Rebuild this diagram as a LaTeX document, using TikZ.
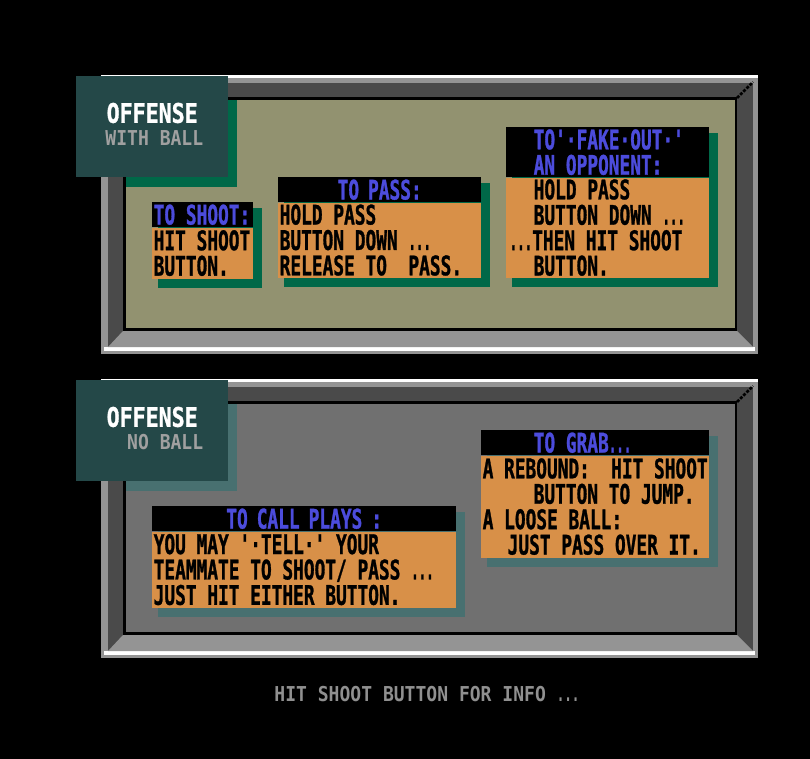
\documentclass[tikz,border=0pt]{standalone}
\usepackage{fontspec}
\usepackage{graphicx}
\usetikzlibrary{positioning,calc}
\newfontfamily\pixfont{DejaVu Sans Mono}[FakeStretch=0.66,FakeBold=1,Ligatures=TeXOff]
\newfontfamily\tabfont{DejaVu Sans Mono}[FakeStretch=0.8,FakeBold=1,Ligatures=TeXOff]
\newfontfamily\smallpix{DejaVu Sans Mono}[FakeStretch=0.88,Ligatures=TeXOff]
\newcommand\tdots{\scalebox{0.7}[1]{...}}
\definecolor{olivebg}{RGB}{146,146,112}
\definecolor{panelgray}{RGB}{112,112,112}
\definecolor{framedark}{RGB}{74,74,74}
\definecolor{framelight}{RGB}{148,148,148}
\definecolor{tabteal}{RGB}{36,72,72}
\definecolor{greenshadow}{RGB}{0,104,72}
\definecolor{tealshadow}{RGB}{72,112,112}
\definecolor{boxorange}{RGB}{216,144,72}
\definecolor{headblue}{RGB}{76,76,220}
\definecolor{subgray}{RGB}{160,160,160}
\definecolor{infogray}{RGB}{144,144,144}
\pgfdeclarelayer{back}
\pgfdeclarelayer{mid}
\pgfsetlayers{back,mid,main}
\tikzstyle{tabbox}=[fill=tabteal, anchor=north west, inner sep=0pt,
                    minimum width=152pt, minimum height=101pt]
\tikzstyle{tabtitle}=[text=white, inner sep=0pt,
                      font=\tabfont\bfseries\fontsize{27}{27}\selectfont]
\tikzstyle{tabsub}=[text=subgray, inner sep=0pt, anchor=east,
                    font=\smallpix\bfseries\fontsize{20.5}{20.5}\selectfont]
\tikzstyle{head}=[fill=black, text=headblue, anchor=north west,
                  inner xsep=1.5pt, inner ysep=0pt, align=flush left,
                  font=\pixfont\bfseries\fontsize{27}{25.4}\selectfont]
\tikzstyle{body}=[fill=boxorange, text=black,
                  inner xsep=1.5pt, inner ysep=0pt, align=flush left,
                  font=\pixfont\bfseries\fontsize{27}{25.4}\selectfont]
\tikzstyle{infotext}=[text=infogray, inner sep=0pt,
                      font=\smallpix\bfseries\fontsize{20.5}{20.5}\selectfont]
\begin{document}
\begin{tikzpicture}[x=1pt,y=-1pt]
    \useasboundingbox (0,0) rectangle (810,759);
    \begin{pgfonlayer}{back}
    \fill[black] (0,0) rectangle (810,759);
    \foreach \dy/\bg in {0/olivebg,304/panelgray}{
      \begin{scope}[shift={(0,\dy)}]
        \fill[framelight] (101,75) rectangle (758,354);
        \fill[white] (101,75) rectangle (758,78);
        \fill[white] (104,347) rectangle (755,351);
        \fill[framedark] (108,83) rectangle (753,347);
        \fill[framelight] (108,347) -- (123,331) -- (737,331) -- (753,347) -- cycle;
        \fill[black] (123,97) rectangle (737,331);
        \fill[\bg] (126,100) rectangle (735,328);
        \draw[black, line width=2.5pt, dash pattern=on 3pt off 1.5pt] (737,98) -- (753,82);
      \end{scope}
    }
    \end{pgfonlayer}

    \node[tabbox] (tab1) at (76,76) {};
    \node[tabtitle] (off1) at ($(tab1.north)+(0,37)$) {OFFENSE};
    \node[tabsub] (sub1) at ($(tab1.north east)+(-25,62)$) {WITH BALL};
    \node[tabbox] (tab2) at (76,380) {};
    \node[tabtitle] (off2) at ($(tab2.north)+(0,37)$) {OFFENSE};
    \node[tabsub] (sub2) at ($(tab2.north east)+(-25,62)$) {NO BALL};

    \node[head, text width=98pt, minimum height=25pt] (shoothead) at (152,202) {TO~SHOOT:};
    \node[body, text width=98pt, minimum height=51pt, below=0pt of shoothead] (shootbody) {HIT~SHOOT\\BUTTON.};
    \node[head, text width=200pt, minimum height=25pt, align=center] (passhead) at (278,177) {TO PASS:};
    \node[body, text width=200pt, minimum height=75pt, below=0pt of passhead] (passbody) {HOLD PASS\\BUTTON DOWN \tdots\\RELEASE TO\ \ PASS.};
    \node[head, text width=200pt, minimum height=50pt] (fakehead) at (506,127) {\hspace*{26pt}TO'·FAKE·OUT·'\\\hspace*{26pt}AN OPPONENT:};
    \node[body, text width=200pt, minimum height=100pt, below=0pt of fakehead] (fakebody) {\hspace*{26pt}HOLD PASS\\\hspace*{26pt}BUTTON DOWN \tdots\\\hspace*{2pt}\tdots THEN HIT SHOOT\\\hspace*{26pt}BUTTON.};

    \node[head, text width=301pt, minimum height=25pt, align=center] (playshead) at (152,506) {TO CALL PLAYS :};
    \node[body, text width=301pt, minimum height=76pt, below=0pt of playshead] (playsbody) {YOU MAY '·TELL·' YOUR\\TEAMMATE TO SHOOT/ PASS \tdots\\JUST HIT EITHER BUTTON.};
    \node[head, text width=225pt, minimum height=25pt] (grabhead) at (481,430) {\hspace*{51pt}TO GRAB\tdots};
    \node[body, text width=225pt, minimum height=102pt, below=0pt of grabhead] (grabbody) {A~REBOUND:~~HIT~SHOOT\\\hspace*{51pt}BUTTON TO JUMP.\\A LOOSE BALL:\\\hspace*{25pt}JUST PASS OVER IT.};

    \begin{pgfonlayer}{mid}
    \fill[greenshadow] (126,100) rectangle ($(tab1.south east)+(9,10)$);
    \foreach \h/\b in {shoothead/shootbody,passhead/passbody,fakehead/fakebody}
      \fill[greenshadow] ($(\h.north west)+(6,6)$) rectangle ($(\b.south east)+(9,9)$);
    \fill[tealshadow] (126,404) rectangle ($(tab2.south east)+(9,10)$);
    \foreach \h/\b in {playshead/playsbody,grabhead/grabbody}
      \fill[tealshadow] ($(\h.north west)+(6,6)$) rectangle ($(\b.south east)+(9,9)$);
    \end{pgfonlayer}

    \node[infotext] (info) at (427,694.5) {HIT SHOOT BUTTON FOR INFO \tdots};
\end{tikzpicture}
\end{document}
